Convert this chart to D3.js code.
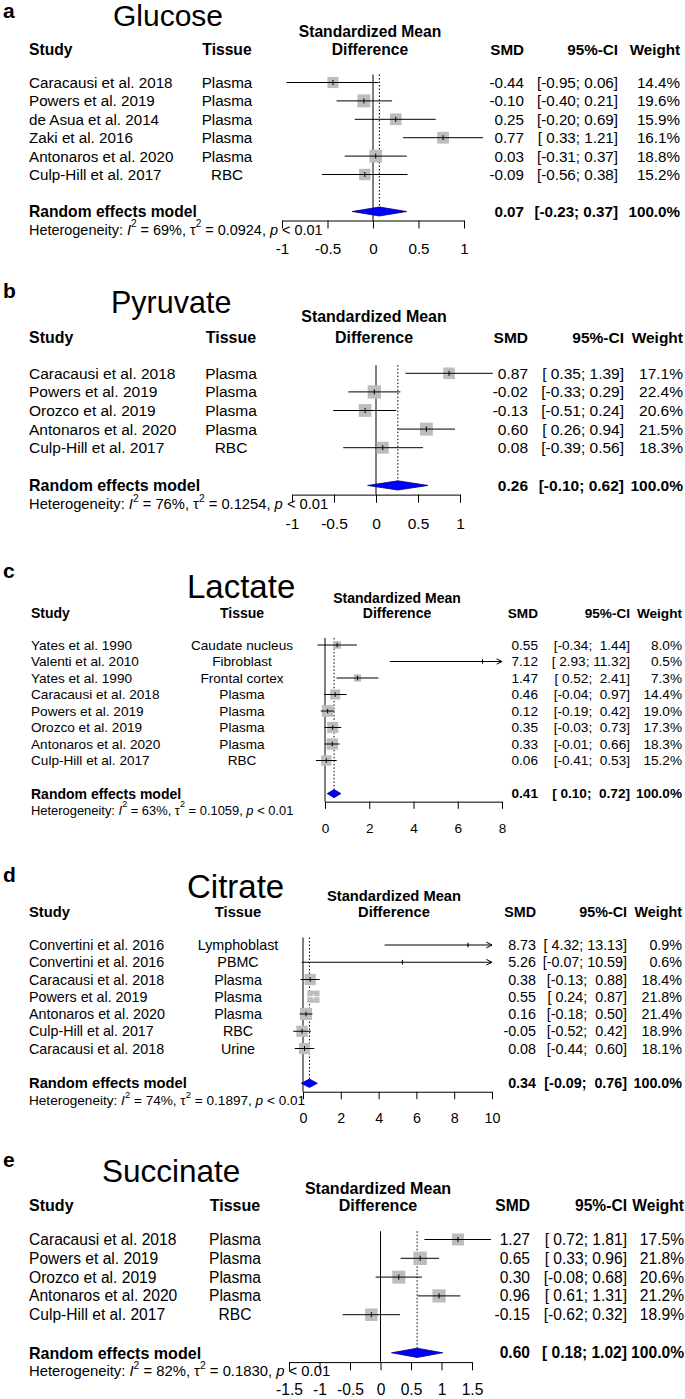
<!DOCTYPE html>
<html><head><meta charset="utf-8">
<script src="https://cdn.jsdelivr.net/npm/d3@7"></script>
<style>
body{margin:0;background:#fff}
svg text{white-space:pre}
</style></head><body>
<svg id="chart" width="685" height="1399"></svg>
<script>
// ===== DATA =====
// a) Glucose
const glucoseStudy  = ["Caracausi et al. 2018","Powers et al. 2019","de Asua et al. 2014","Zaki et al. 2016","Antonaros et al. 2020","Culp-Hill et al. 2017"];
const glucoseTissue = ["Plasma","Plasma","Plasma","Plasma","Plasma","RBC"];
const glucoseSMD    = [-0.44,-0.10,0.25,0.77,0.03,-0.09];
const glucoseLower  = [-0.95,-0.40,-0.20,0.33,-0.31,-0.56];
const glucoseUpper  = [0.06,0.21,0.69,1.21,0.37,0.38];
const glucoseWeight = [14.4,19.6,15.9,16.1,18.8,15.2];
const glucosePooled = [0.07,-0.23,0.37];
const glucoseHet    = [69,0.0924];
const glucoseTicks  = [-1,-0.5,0,0.5,1];

// b) Pyruvate
const pyruvateStudy  = ["Caracausi et al. 2018","Powers et al. 2019","Orozco et al. 2019","Antonaros et al. 2020","Culp-Hill et al. 2017"];
const pyruvateTissue = ["Plasma","Plasma","Plasma","Plasma","RBC"];
const pyruvateSMD    = [0.87,-0.02,-0.13,0.60,0.08];
const pyruvateLower  = [0.35,-0.33,-0.51,0.26,-0.39];
const pyruvateUpper  = [1.39,0.29,0.24,0.94,0.56];
const pyruvateWeight = [17.1,22.4,20.6,21.5,18.3];
const pyruvatePooled = [0.26,-0.10,0.62];
const pyruvateHet    = [76,0.1254];
const pyruvateTicks  = [-1,-0.5,0,0.5,1];

// c) Lactate
const lactateStudy  = ["Yates et al. 1990","Valenti et al. 2010","Yates et al. 1990","Caracausi et al. 2018","Powers et al. 2019","Orozco et al. 2019","Antonaros et al. 2020","Culp-Hill et al. 2017"];
const lactateTissue = ["Caudate nucleus","Fibroblast","Frontal cortex","Plasma","Plasma","Plasma","Plasma","RBC"];
const lactateSMD    = [0.55,7.12,1.47,0.46,0.12,0.35,0.33,0.06];
const lactateLower  = [-0.34,2.93,0.52,-0.04,-0.19,-0.03,-0.01,-0.41];
const lactateUpper  = [1.44,11.32,2.41,0.97,0.42,0.73,0.66,0.53];
const lactateWeight = [8.0,0.5,7.3,14.4,19.0,17.3,18.3,15.2];
const lactatePooled = [0.41,0.10,0.72];
const lactateHet    = [63,0.1059];
const lactateTicks  = [0,2,4,6,8];

// d) Citrate
const citrateStudy  = ["Convertini et al. 2016","Convertini et al. 2016","Caracausi et al. 2018","Powers et al. 2019","Antonaros et al. 2020","Culp-Hill et al. 2017","Caracausi et al. 2018"];
const citrateTissue = ["Lymphoblast","PBMC","Plasma","Plasma","Plasma","RBC","Urine"];
const citrateSMD    = [8.73,5.26,0.38,0.55,0.16,-0.05,0.08];
const citrateLower  = [4.32,-0.07,-0.13,0.24,-0.18,-0.52,-0.44];
const citrateUpper  = [13.13,10.59,0.88,0.87,0.50,0.42,0.60];
const citrateWeight = [0.9,0.6,18.4,21.8,21.4,18.9,18.1];
const citratePooled = [0.34,-0.09,0.76];
const citrateHet    = [74,0.1897];
const citrateTicks  = [0,2,4,6,8,10];

// e) Succinate
const succinateStudy  = ["Caracausi et al. 2018","Powers et al. 2019","Orozco et al. 2019","Antonaros et al. 2020","Culp-Hill et al. 2017"];
const succinateTissue = ["Plasma","Plasma","Plasma","Plasma","RBC"];
const succinateSMD    = [1.27,0.65,0.30,0.96,-0.15];
const succinateLower  = [0.72,0.33,-0.08,0.61,-0.62];
const succinateUpper  = [1.81,0.96,0.68,1.31,0.32];
const succinateWeight = [17.5,21.8,20.6,21.2,18.9];
const succinatePooled = [0.60,0.18,1.02];
const succinateHet    = [82,0.1830];
const succinateTicks  = [-1.5,-1,-0.5,0,0.5,1,1.5];

// ===== LAYOUT =====
const FONT = '"Liberation Sans", Arial, Helvetica, sans-serif';
const panels = [
  {letter:"a", title:"Glucose", study:glucoseStudy, tissue:glucoseTissue, smd:glucoseSMD, lower:glucoseLower, upper:glucoseUpper, weight:glucoseWeight, pooled:glucosePooled, het:glucoseHet, ticks:glucoseTicks,
   L:{fs:15.2,k:1,r1:82.5,s:18.4,labelY:17.5,titleX:113,titleY:26,titleFs:30,stdY:31.5,headY:49,studyX:29,tissueX:227,smX:370,xa:282,xb:464,smdR:524,ciR:618,wR:680,clip:null,tickOff:28}},
  {letter:"b", title:"Pyruvate", study:pyruvateStudy, tissue:pyruvateTissue, smd:pyruvateSMD, lower:pyruvateLower, upper:pyruvateUpper, weight:pyruvateWeight, pooled:pyruvatePooled, het:pyruvateHet, ticks:pyruvateTicks,
   L:{fs:15.5,k:1.02,r1:373.3,s:18.6,labelY:298,titleX:111,titleY:313,titleFs:30.5,stdY:316,headY:337,studyX:29,tissueX:231,smX:374,xa:292,xb:460,smdR:528,ciR:624,wR:683,clip:null,tickOff:28}},
  {letter:"c", title:"Lactate", study:lactateStudy, tissue:lactateTissue, smd:lactateSMD, lower:lactateLower, upper:lactateUpper, weight:lactateWeight, pooled:lactatePooled, het:lactateHet, ticks:lactateTicks,
   L:{fs:13.6,k:0.895,r1:645,s:16.5,labelY:578,titleX:187,titleY:598,titleFs:33,stdY:598,headY:613,studyX:31,tissueX:242,smX:397,xa:325,xb:502,smdR:538,ciR:630,wR:682,clip:8,tickOff:29}},
  {letter:"d", title:"Citrate", study:citrateStudy, tissue:citrateTissue, smd:citrateSMD, lower:citrateLower, upper:citrateUpper, weight:citrateWeight, pooled:citratePooled, het:citrateHet, ticks:citrateTicks,
   L:{fs:14.3,k:0.94,r1:945,s:17.25,labelY:882,titleX:187,titleY:898,titleFs:33,stdY:896,headY:912,studyX:29,tissueX:238,smX:394,xa:303,xb:492,smdR:536,ciR:627,wR:682,clip:10,tickOff:28}},
  {letter:"e", title:"Succinate", study:succinateStudy, tissue:succinateTissue, smd:succinateSMD, lower:succinateLower, upper:succinateUpper, weight:succinateWeight, pooled:succinatePooled, het:succinateHet, ticks:succinateTicks,
   L:{fs:15.6,k:1.03,r1:1239.5,s:18.8,labelY:1167,titleX:102,titleY:1182,titleFs:31.5,stdY:1188,headY:1205,studyX:29,tissueX:235,smX:378,xa:289,xb:472,smdR:530,ciR:627,wR:684,clip:null,tickOff:26.5}}
];

const svg = d3.select("#chart").attr("font-family", FONT);
const BOLD = 1.03;

function txt(g, x, y, s, fs, opt) {
  opt = opt || {};
  const t = g.append("text").attr("x", x).attr("y", y).attr("font-size", fs).attr("fill", "#000").text(s);
  if (!opt.alpha) t.attr("dominant-baseline", "central");
  if (opt.bold) t.attr("font-weight", "bold");
  if (opt.anchor) t.attr("text-anchor", opt.anchor);
  return t;
}

function drawPanel(D) {
  const L = D.L, k = L.k, fs = L.fs, hfsB = fs * BOLD;
  const g = svg.append("g");
  const n = D.study.length;
  const yRow = i => L.r1 + i * L.s;
  const yR = yRow(n - 1) + 37 * k;
  const yAx = yR + 9 * k;
  const yHet = yAx + 9 * k;
  const x = d3.scaleLinear().domain(d3.extent(D.ticks)).range([L.xa, L.xb]);

  const allLo = D.lower.concat([D.pooled[1]]), allHi = D.upper.concat([D.pooled[2]]);
  const loW = d3.max(allLo, v => v.toFixed(2).length), hiW = d3.max(allHi, v => v.toFixed(2).length);
  const ci = (lo, hi) => "[" + lo.toFixed(2).padStart(loW) + "; " + hi.toFixed(2).padStart(hiW) + "]";

  // panel letter & title
  txt(g, 3, L.labelY, D.letter, 21, {bold: true, alpha: true});
  txt(g, L.titleX, L.titleY, D.title, L.titleFs, {alpha: true});

  // headers
  txt(g, L.smX, L.stdY, "Standardized Mean", hfsB, {bold: true, anchor: "middle"});
  txt(g, L.smX, L.headY, "Difference", hfsB, {bold: true, anchor: "middle"});
  txt(g, L.studyX, L.headY, "Study", hfsB, {bold: true});
  txt(g, L.tissueX, L.headY, "Tissue", hfsB, {bold: true, anchor: "middle"});
  txt(g, L.smdR, L.headY, "SMD", fs, {bold: true, anchor: "end"});
  txt(g, L.ciR, L.headY, "95%-CI", fs, {bold: true, anchor: "end"});
  txt(g, L.wR, L.headY, "Weight", fs, {bold: true, anchor: "end"});

  const rows = D.study.map((s, i) => ({i, study: s, tissue: D.tissue[i], est: D.smd[i], lo: D.lower[i], hi: D.upper[i], w: D.weight[i]}));

  // row texts
  rows.forEach(r => {
    const y = yRow(r.i);
    txt(g, L.studyX, y, r.study, fs);
    txt(g, L.tissueX, y, r.tissue, fs, {anchor: "middle"});
    txt(g, L.smdR, y, r.est.toFixed(2), fs, {anchor: "end"});
    txt(g, L.ciR, y, ci(r.lo, r.hi), fs, {anchor: "end"});
    txt(g, L.wR, y, r.w.toFixed(1) + "%", fs, {anchor: "end"});
  });

  // pooled row
  txt(g, L.studyX, yR, "Random effects model", hfsB, {bold: true});
  txt(g, L.smdR, yR, D.pooled[0].toFixed(2), fs, {bold: true, anchor: "end"});
  txt(g, L.ciR, yR, ci(D.pooled[1], D.pooled[2]), fs, {bold: true, anchor: "end"});
  txt(g, L.wR, yR, "100.0%", fs, {bold: true, anchor: "end"});

  // heterogeneity
  const hfs = fs * 0.95, sup = hfs * 0.7, up = hfs * 0.42;
  const ht = txt(g, L.studyX, yHet, "", hfs).text(null);
  ht.append("tspan").text("Heterogeneity: ");
  ht.append("tspan").attr("font-style", "italic").text("I");
  ht.append("tspan").attr("font-size", sup).attr("dy", -up).text("2");
  ht.append("tspan").attr("dy", up).text(" = " + D.het[0] + "%, \u03c4");
  ht.append("tspan").attr("font-size", sup).attr("dy", -up).text("2");
  ht.append("tspan").attr("dy", up).text(" = " + D.het[1].toFixed(4) + ", ");
  ht.append("tspan").attr("font-style", "italic").text("p");
  ht.append("tspan").text(" < 0.01");

  // reference lines
  const yTop = yRow(0) - 8 * k;
  g.append("line").attr("x1", x(0)).attr("x2", x(0)).attr("y1", yTop).attr("y2", yAx)
    .attr("stroke", "#000").attr("stroke-width", 1);
  const dh = 4.5 * k;
  g.append("line").attr("x1", x(D.pooled[0])).attr("x2", x(D.pooled[0])).attr("y1", yTop).attr("y2", yR - dh)
    .attr("stroke", "#000").attr("stroke-width", 1).attr("stroke-dasharray", "1.5,2");

  // squares & CIs
  const wmax = d3.max(D.weight);
  const side = w => 13 * k * Math.sqrt(w / wmax);
  const xHi = r => (L.clip !== null && r.hi > L.clip) ? x(L.clip) : x(r.hi);
  const inside = r => (xHi(r) - x(r.lo)) < side(r.w);

  g.selectAll("rect.sq").data(rows).join("rect").attr("class", "sq")
    .attr("x", r => x(r.est) - side(r.w) / 2).attr("y", r => yRow(r.i) - side(r.w) / 2)
    .attr("width", r => side(r.w)).attr("height", r => side(r.w))
    .attr("fill", "#bdbdbd");
  g.selectAll("line.ci").data(rows).join("line").attr("class", "ci")
    .attr("x1", r => x(r.lo)).attr("x2", xHi).attr("y1", r => yRow(r.i)).attr("y2", r => yRow(r.i))
    .attr("stroke", r => inside(r) ? "#fff" : "#000").attr("stroke-width", 1);
  g.selectAll("line.pt").data(rows).join("line").attr("class", "pt")
    .attr("x1", r => x(r.est)).attr("x2", r => x(r.est))
    .attr("y1", r => yRow(r.i) - 2.5 * k).attr("y2", r => yRow(r.i) + 2.5 * k)
    .attr("stroke", r => inside(r) ? "#fff" : "#000").attr("stroke-width", 1);
  // arrows where CI exceeds plotting range
  g.selectAll("path.arr").data(rows.filter(r => L.clip !== null && r.hi > L.clip)).join("path").attr("class", "arr")
    .attr("d", r => { const xe = x(L.clip), y = yRow(r.i); return `M${xe - 6 * k},${y - 3 * k}L${xe},${y}L${xe - 6 * k},${y + 3 * k}`; })
    .attr("fill", "none").attr("stroke", "#000").attr("stroke-width", 1);

  // diamond
  const pe = D.pooled;
  g.append("path")
    .attr("d", `M${x(pe[1])},${yR}L${x(pe[0])},${yR - dh}L${x(pe[2])},${yR}L${x(pe[0])},${yR + dh}Z`)
    .attr("fill", "#0000ff").attr("stroke", "#00007a").attr("stroke-width", 0.8);

  // axis
  const tickLen = 8 * k;
  const axis = d3.axisBottom(x).tickValues(D.ticks).tickFormat(d => String(d))
    .tickSize(tickLen).tickSizeOuter(0).tickPadding(L.tickOff * k - tickLen - 0.35 * fs);
  const ax = g.append("g").attr("transform", `translate(0,${yAx})`).call(axis);
  ax.attr("font-family", FONT).attr("font-size", fs);
  ax.select(".domain").attr("stroke", "#000");
  ax.selectAll(".tick line").attr("stroke", "#000");
  ax.selectAll(".tick text").attr("fill", "#000").attr("font-size", fs);
}

panels.forEach(drawPanel);
</script>
</body></html>
